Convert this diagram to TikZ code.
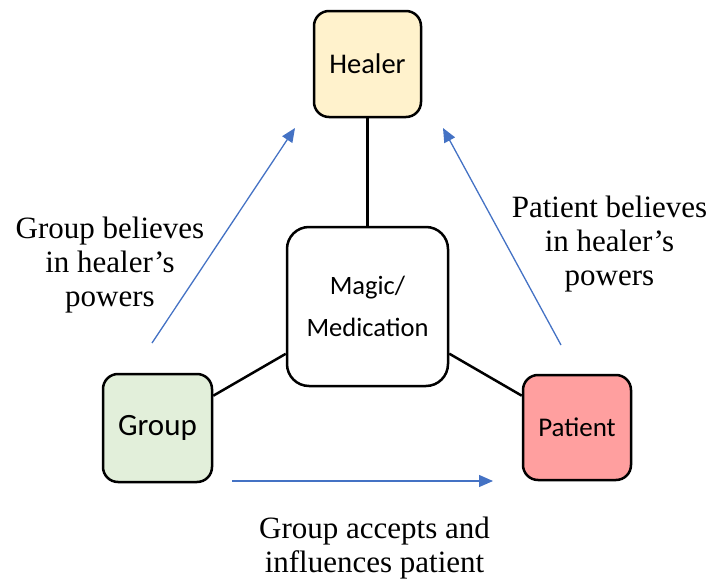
\documentclass[tikz,border=0pt]{standalone}
\usepackage{fontspec}
\setmainfont{Liberation Serif}
\newfontfamily\calib{Carlito}
\usetikzlibrary{arrows.meta}
\definecolor{arrowblue}{HTML}{4472C4}
\definecolor{healerfill}{HTML}{FFF2CC}
\definecolor{groupfill}{HTML}{E2EFDA}
\definecolor{patientfill}{HTML}{FF9F9F}
\begin{document}
\begin{tikzpicture}[x=1pt,y=-1pt,
  box/.style={draw=black, line width=2.5pt, rounded corners=15pt, inner sep=0pt, align=center},
  link/.style={line width=2.5pt},
  flow/.style={draw=arrowblue, line width=1.3pt, -{Triangle[length=14pt,width=12pt]}},
  lbl/.style={font=\fontsize{31}{34}\selectfont, align=center}]
\useasboundingbox (0,0) rectangle (713,581);
% boxes
\node[box, fill=healerfill, minimum width=107pt, minimum height=106pt,
      font=\calib\fontsize{28.5}{32}\selectfont] (healer) at (367.5,64) {Healer};
\node[box, fill=white, minimum width=161pt, minimum height=159pt, rounded corners=22pt,
      font=\calib\fontsize{26.5}{42}\selectfont] (magic) at (367.5,306.5) {Magic/\\Medication};
\node[box, fill=groupfill, minimum width=109pt, minimum height=108pt,
      font=\calib\fontsize{31}{36}\selectfont] (group) at (157.5,428) {Group};
\node[box, fill=patientfill, minimum width=108pt, minimum height=105pt,
      font=\calib\fontsize{27}{32}\selectfont] (patient) at (577,427.5) {Patient};
% links
\draw[link] (healer) -- (magic);
\draw[link] (group) -- (magic);
\draw[link] (magic) -- (patient);
% blue arrows
\coordinate (a1s) at (152,343);
\coordinate (a1e) at (295,128);
\coordinate (a2s) at (561,345);
\coordinate (a2e) at (443,128);
\coordinate (a3s) at (232,481);
\coordinate (a3e) at (493,481);
\draw[flow] (a1s) -- (a1e);
\draw[flow] (a2s) -- (a2e);
\draw[flow] (a3s) -- (a3e);
% labels
\node[lbl] (lgroup) at (110,265) {Group believes\\in healer’s\\powers};
\node[lbl] (lpatient) at (609.5,244) {Patient believes\\in healer’s\\powers};
\node[lbl] (laccept) at (374.5,548) {Group accepts and\\influences patient};
\end{tikzpicture}
\end{document}
